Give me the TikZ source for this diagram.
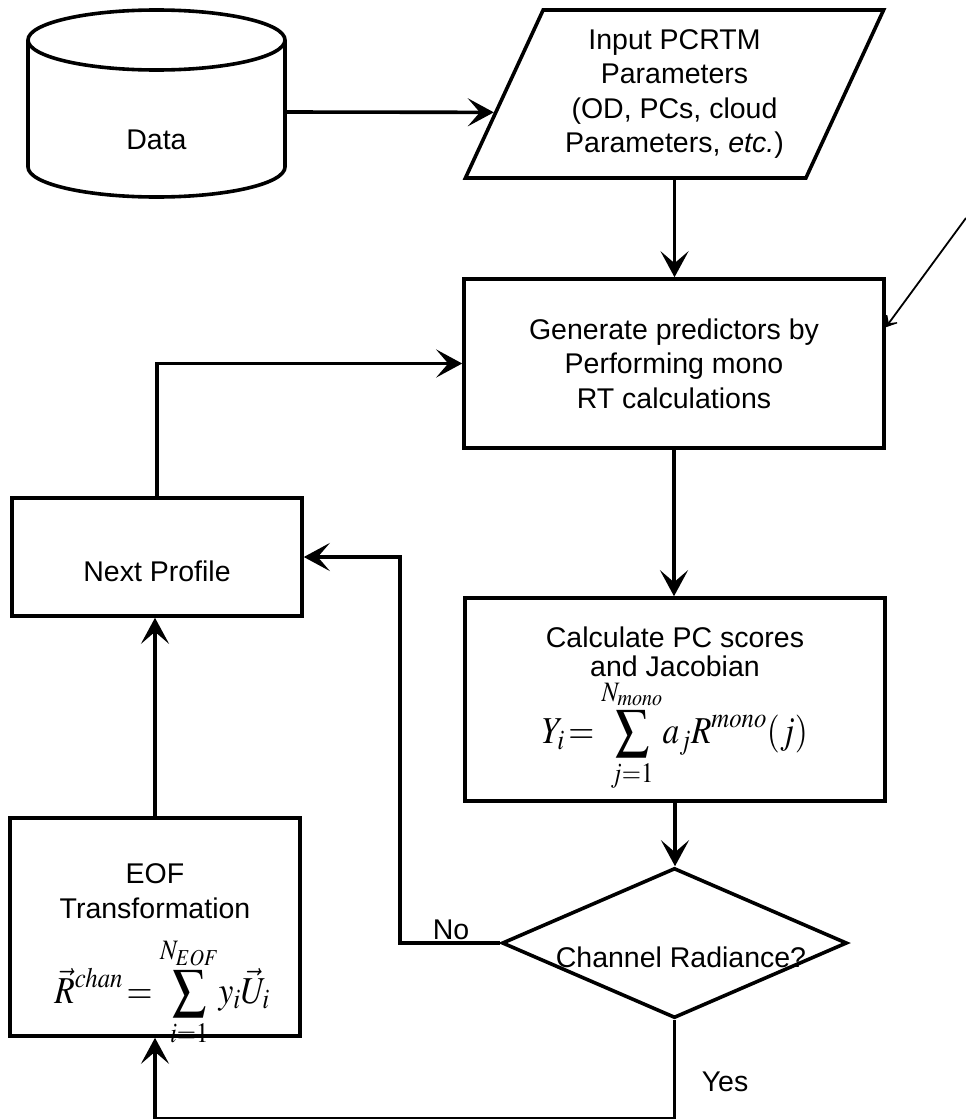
\documentclass[tikz,border=0pt]{standalone}
\usepackage{mathptmx}
\usepackage{fontspec}
\setmainfont{Liberation Sans}
\usetikzlibrary{shapes.geometric,arrows.meta,calc}
\begin{document}
\begin{tikzpicture}[x=1pt,y=-1pt,
  every node/.style={font=\fontsize{28.5}{34.5}\selectfont, inner sep=0pt},
  conn/.style={line width=3.6pt},
  box/.style={draw, rectangle, line width=3.6pt, inner sep=0pt},
  arr/.style={conn, -{Stealth[length=26pt,width=28pt,inset=12pt]}},
  thinarr/.style={line width=1.8pt, -{Stealth[length=15pt,width=21pt,inset=10pt]}},
  formula/.style={font=\fontsize{38}{46}\selectfont}
]
\useasboundingbox (0,0) rectangle (966,1119);

% Data cylinder
\node[minimum width=257pt, minimum height=170pt] (data) at (156.5,112) {};
\draw[conn] (156.5,40) ellipse [x radius=128.5, y radius=30];
\draw[conn] (28,40) -- (28,167) arc[start angle=180, end angle=0, x radius=128.5, y radius=30] -- (285,40);
\node (datatxt) at (156.5,140) {Data};

% input parallelogram
\node[trapezium, draw, line width=3.6pt, trapezium left angle=63.43, trapezium right angle=116.57,
      trapezium stretches=true, minimum width=419pt, minimum height=168pt, align=center] (par)
      at (674.5,94) {Input PCRTM\\Parameters\\(OD, PCs, cloud\\Parameters, \textit{etc.})};
\draw[arr] (data.east) -- ($(par.bottom left corner)!0.393!(par.top left corner)$);

% generate
\node[box, minimum width=420pt, minimum height=169pt, align=center] (gen) at (674,363.5)
  {Generate predictors by\\Performing mono\\RT calculations};
\draw[arr] (par.south) -- (par.south |- gen.north);

% next profile
\node[box, minimum width=290pt, minimum height=118pt] (next) at (157,557) {};
\node (nexttxt) at (157,571) {Next Profile};
\draw[arr] (next.north) |- (gen.west);

% calculate
\node[box, minimum width=420pt, minimum height=203pt] (calc) at (675,699.5) {};
\node[align=center, font=\fontsize{28.5}{29}\selectfont] (calctxt) at (675,652) {Calculate PC scores\\and Jacobian};
\node[formula] (calcfor) at (675,736)
  {\scalebox{0.88}[1]{$\displaystyle Y_i\,{=}\,\sum\limits_{j=1}^{N_{mono}}\! a_j R^{mono}(j)$}};
\draw[arr] (gen.south) -- (gen.south |- calc.north);

% decision
\node[diamond, draw, line width=3.6pt, minimum width=345pt, minimum height=150pt, aspect=2.3] (dia) at (674.5,943) {};
\node (diatxt) at (681,957) {Channel Radiance?};
\draw[arr] (calc.south) -- (calc.south |- dia.north);

% EOF
\node[box, minimum width=290pt, minimum height=218pt] (eof) at (155,927) {};
\node[align=center] (eoftxt) at (155,891) {EOF\\Transformation};
\node[formula] (eoffor) at (162,992)
  {\scalebox{0.88}[1]{$\displaystyle \vec{R}^{chan}\,{=}\,\sum\limits_{i=1}^{N_{EOF}}\! y_i \vec{U}_i$}};
\draw[arr] (eof.north) -- (eof.north |- next.south);

% No branch
\draw[arr] (dia.west) -- ++(-100,0) |- (next.east);
\node (no) at (451,930) {No};

% Yes branch
\draw[arr] (dia.south) -- ++(0,99) -| (eof.south);
\node (yes) at (725,1082) {Yes};

% external thin arrow
\coordinate (ext) at (966,218);
\draw[thinarr] (ext) -- ($(gen.north east)!0.29!(gen.south east)$);
\end{tikzpicture}
\end{document}
